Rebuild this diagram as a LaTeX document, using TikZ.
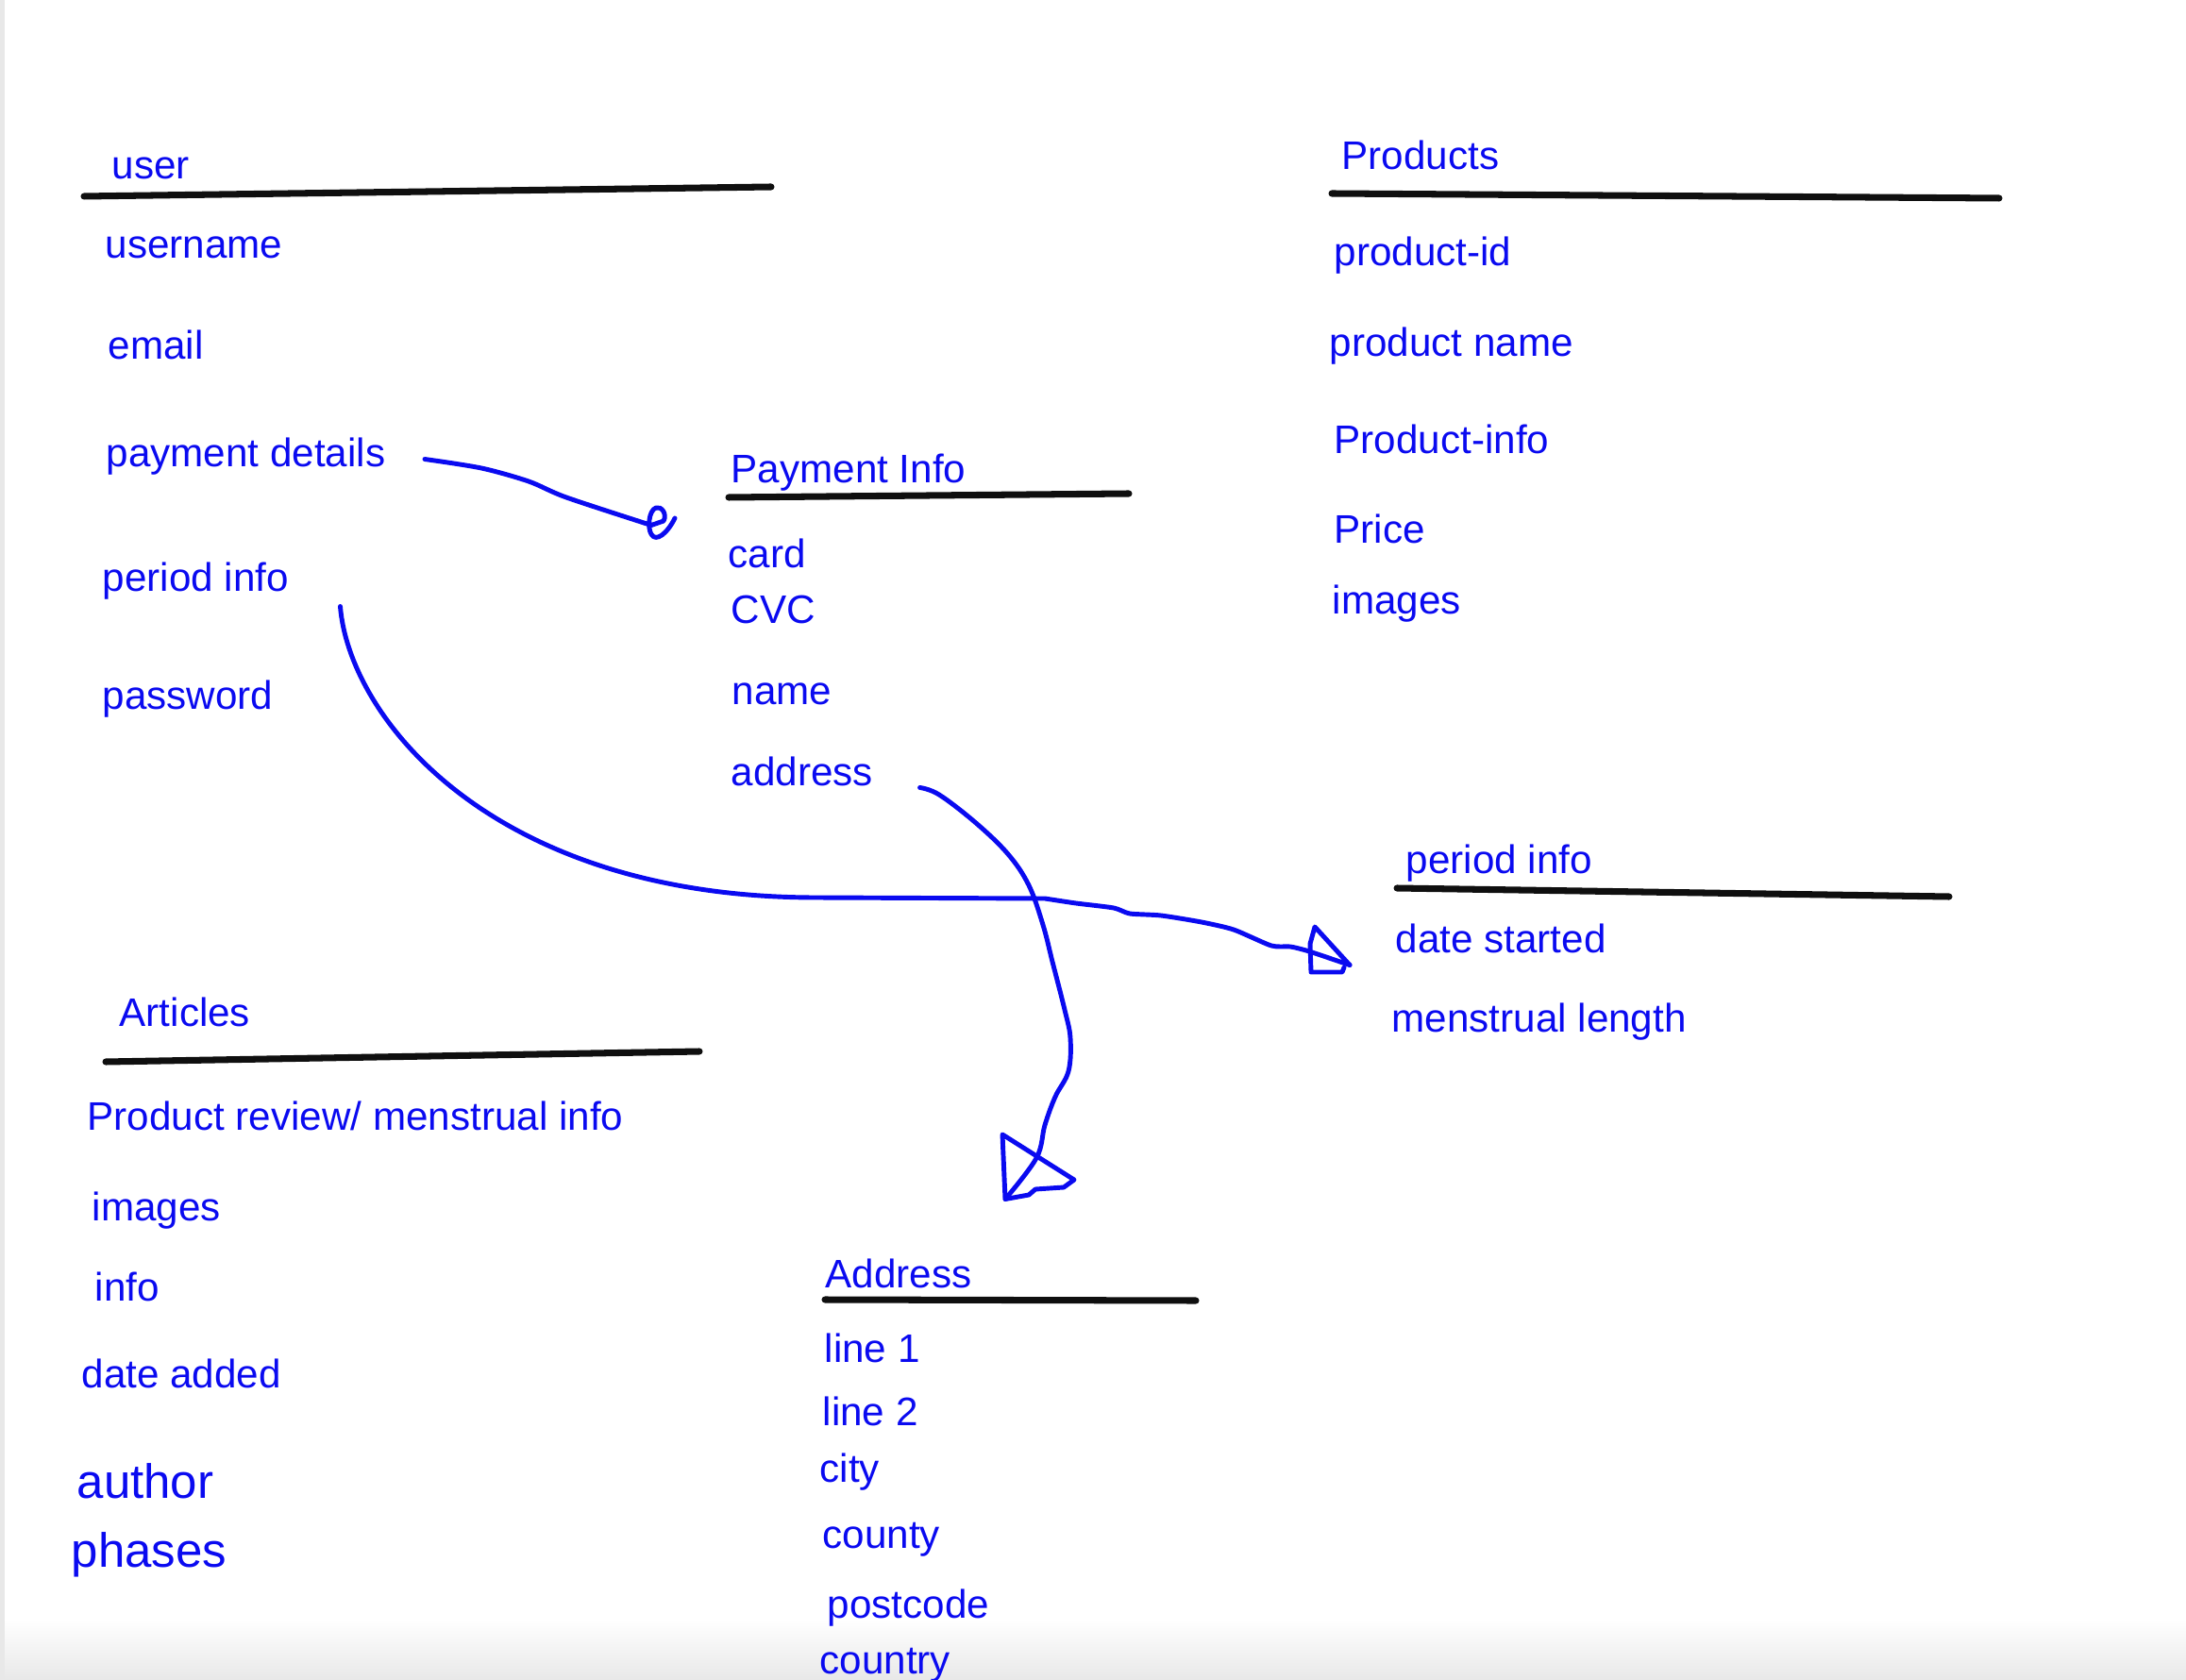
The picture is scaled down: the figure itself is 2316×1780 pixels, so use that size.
\documentclass[tikz,border=0pt]{standalone}
\usepackage{fontspec}
\setmainfont{Liberation Sans}
\usetikzlibrary{calc}

\definecolor{penblue}{RGB}{10,10,240}
\definecolor{inkblack}{RGB}{15,15,15}

\begin{document}
\begin{tikzpicture}[x=0.01cm,y=-0.01cm,
                    every node/.style={anchor=west,inner sep=0pt,text=penblue,
                        font=\fontsize{12pt}{14pt}\selectfont,
                        text height=8.5pt,text depth=2.4pt,yshift=-0.045cm},
                    big/.style={font=\fontsize{14.5pt}{17pt}\selectfont,yshift=-0.03cm},
                    bar/.style={draw=inkblack,line width=2pt,line cap=round},
                    pen/.style={draw=penblue,line width=1.4pt,line cap=round,line join=round}]
            \useasboundingbox (0,0) rectangle (2316,1780);
            %Background
                \fill[black!9] (0,0) rectangle (5,1780);
                \shade[top color=white,bottom color=black!9] (5,1715) rectangle (2316,1780);

            %user
                \node (user) at (118,174) {user};
                \node (uname) at (111,258) {username};
                \node (email) at (114,365) {email};
                \node (paydet) at (112,479) {payment details};
                \node (period) at (108,611) {period info};
                \node (pwd) at (108,736) {password};
                \draw[bar] (89,208) -- (817,198);

            %Products
                \node (prod) at (1421,164) {Products};
                \node (pid) at (1413,266) {product-id};
                \node (pname) at (1408,362) {product name};
                \node (pinfo) at (1413,465) {Product-info};
                \node (price) at (1413,560) {Price};
                \node (pimg) at (1411,635) {images};
                \draw[bar] (1411,205) -- (2118,210);

            %Payment Info
                \node (pay) at (774,496) {Payment Info};
                \node (card) at (771,586) {card};
                \node (cvc) at (774,645) {CVC};
                \node (name) at (775,731) {name};
                \node (addr) at (774,817) {address};
                \draw[bar] (772,527) -- (1196,523);

            %period info
                \node (per) at (1489,910) {period info};
                \node (datest) at (1478,994) {date started};
                \node (mlen) at (1474,1078) {menstrual length};
                \draw[bar] (1480,941) -- (2065,950);

            %Articles
                \node (art) at (126,1072) {Articles};
                \node (review) at (92,1182) {Product review/ menstrual info};
                \node (aimg) at (97,1278) {images};
                \node (info) at (100,1363) {info};
                \node (dadd) at (86,1455) {date added};
                \node[big] (author) at (81,1569) {author};
                \node[big] (phases) at (75,1642) {phases};
                \draw[bar] (112,1125) -- (741,1114);

            %Address
                \node (adr) at (874,1349) {Address};
                \node (l1) at (873,1428) {line 1};
                \node (l2) at (871,1495) {line 2};
                \node (city) at (868,1555) {city};
                \node (county) at (871,1625) {county};
                \node (pcode) at (876,1699) {postcode};
                \node (country) at (868,1758) {country};
                \draw[bar] (874,1377) -- (1267,1378);

            %Links
                \coordinate (s1) at ($(paydet.east)+(41,-1.5)$);
                \coordinate (t1) at ($(pay.west)+(-84,51.5)$);
                \draw[pen] plot[smooth,tension=0.5] coordinates {(s1) (510,496) (560,510) (600,527) (t1)}
                    -- (703,552) .. controls (707,545) and (701,536) .. (695,538)
                    .. controls (687,541) and (686,560) .. (690,566)
                    .. controls (695,575) and (707,565) .. (715,549);

                \coordinate (s2) at ($(period.east)+(54,22.5)$);
                \coordinate (t2) at ($(datest.west)+(-48,19.5)$);
                \draw[pen] (s2) .. controls (370,760) and (520,950) .. (863,951)
                    -- (1107,952)
                    -- plot[smooth,tension=0.4] coordinates {(1107,952) (1140,957) (1180,962) (1197,968) (1230,970) (1273,977) (1307,985) (1347,1002) (1367,1003) (1387,1008) (t2)};
                \draw[pen] (t2) -- (1393,982) -- (1388,1000) -- (1389,1030) -- (1422,1030) -- (1424,1025);

                \coordinate (s3) at ($(addr.east)+(49,8.5)$);
                \coordinate (t3) at (1065,1266);
                \draw[pen] plot[smooth,tension=0.6] coordinates {(s3) (995,842) (1034,872) (1068,905) (1090,938) (1105,980) (1115,1019) (1128,1070) (1134,1100) (1132,1135) (1118,1162) (1107,1192) (1098,1227) (t3)};
                \draw[pen] (t3) -- (1062,1202) -- (1138,1250) -- (1127,1258) -- (1097,1260) -- (1090,1266) -- cycle;
            \end{tikzpicture}
\end{document}
